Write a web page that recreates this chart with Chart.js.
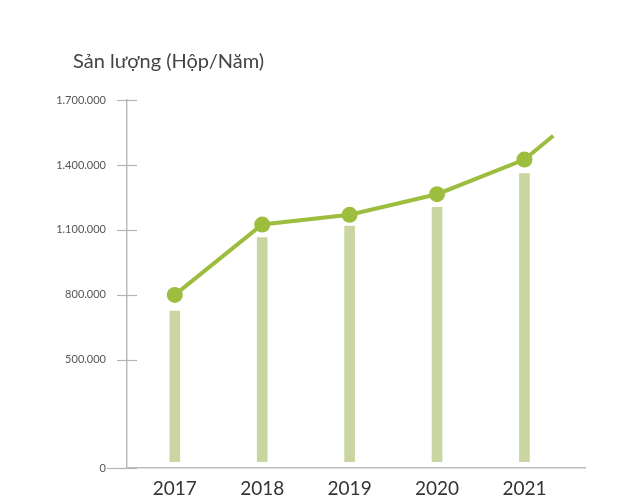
<!DOCTYPE html>
<html>
<head>
<meta charset="utf-8">
<script src="https://cdn.jsdelivr.net/npm/chart.js@4/dist/chart.umd.min.js"></script>
<style>
  html, body { margin: 0; padding: 0; background: #ffffff; }
  #wrap { width: 620px; height: 504px; }
</style>
</head>
<body>
<div id="wrap"><canvas id="c" width="620" height="504"></canvas></div>
<script>
// ---- data ----
const years = ['2017', '2018', '2019', '2020', '2021'];
const lineValues = [800000, 1125000, 1170000, 1265000, 1425000];
const barValues = [725000, 1065000, 1118000, 1205000, 1360000];
const tailPoint = [4.33, 1535000];           // line continues past 2021
const yTicks = [0, 500000, 800000, 1100000, 1400000, 1700000];
const titleText = 'Sản lượng (Hộp/Năm)';

const lineData = lineValues.map((v, i) => ({ x: i, y: v }));
lineData.push({ x: tailPoint[0], y: tailPoint[1] });
const barData = barValues.map((v, i) => ({ x: i, y: v }));

const fmt = v => String(v).replace(/\B(?=(\d{3})+(?!\d))/g, '.');

const crossTicks = {
  id: 'crossTicks',
  afterLayout(chart) {
    // shift the title so it starts above the tick labels
    if (chart.titleBlock) {
      chart.titleBlock.left = chart.chartArea.left - 54;
    }
  },
  afterDraw(chart) {
    const s = chart.scales.y;
    const ctx = chart.ctx;
    ctx.save();
    ctx.strokeStyle = '#b4b4b4';
    ctx.lineWidth = 1.2;
    s.ticks.forEach((t, i) => {
      const py = Math.round(s.getPixelForTick(i)) + 0.5;
      ctx.beginPath();
      ctx.moveTo(s.right - (t.value === 0 ? 20 : 10), py);
      ctx.lineTo(s.right + 10, py);
      ctx.stroke();
    });
    ctx.restore();
  }
};

new Chart(document.getElementById('c'), {
  type: 'bar',
  data: {
    datasets: [
      {
        type: 'line',
        data: lineData,
        borderColor: '#9dbd3f',
        backgroundColor: '#9dbd3f',
        borderWidth: 4,
        pointRadius: [8, 8, 8, 8, 8, 0],
        pointHoverRadius: [8, 8, 8, 8, 8, 0],
        pointBackgroundColor: '#9dbd3f',
        pointBorderWidth: 0,
        tension: 0,
        order: 0
      },
      {
        type: 'bar',
        data: barData,
        backgroundColor: '#c9d6a1',
        borderWidth: 0,
        barThickness: 10,
        base: 30000,
        order: 1
      }
    ]
  },
  options: {
    responsive: false,
    animation: false,
    layout: { padding: { left: 0, right: 35, top: 0, bottom: -5 } },
    plugins: {
      legend: { display: false },
      tooltip: { enabled: false },
      title: {
        display: true,
        text: titleText,
        align: 'start',
        color: '#444444',
        font: { family: 'Lato', size: 20, weight: 'normal' },
        padding: { top: 50, bottom: 26 }
      }
    },
    scales: {
      x: {
        type: 'linear',
        min: -0.547,
        max: 4.693,
        offset: false,
        afterBuildTicks: s => { s.ticks = years.map((_, i) => ({ value: i })); },
        ticks: {
          callback: v => years[v] ?? '',
          color: '#333333',
          font: { family: 'Lato', size: 19 },
          padding: 9,
          maxRotation: 0,
          autoSkip: false
        },
        grid: { display: false, drawTicks: false },
        border: { display: true, color: '#bdbdbd', width: 1.5 }
      },
      y: {
        min: 0,
        max: 1700000,
        afterBuildTicks: s => { s.ticks = yTicks.map(v => ({ value: v })); },
        afterFit: s => { s.width = 127; },
        ticks: {
          callback: v => fmt(v),
          color: '#555555',
          font: { family: 'Lato', size: 11 },
          padding: 21,
          autoSkip: false
        },
        grid: { display: false, drawTicks: false },
        border: { display: true, color: '#bdbdbd', width: 1.5 }
      }
    }
  },
  plugins: [crossTicks]
});
</script>
</body>
</html>
